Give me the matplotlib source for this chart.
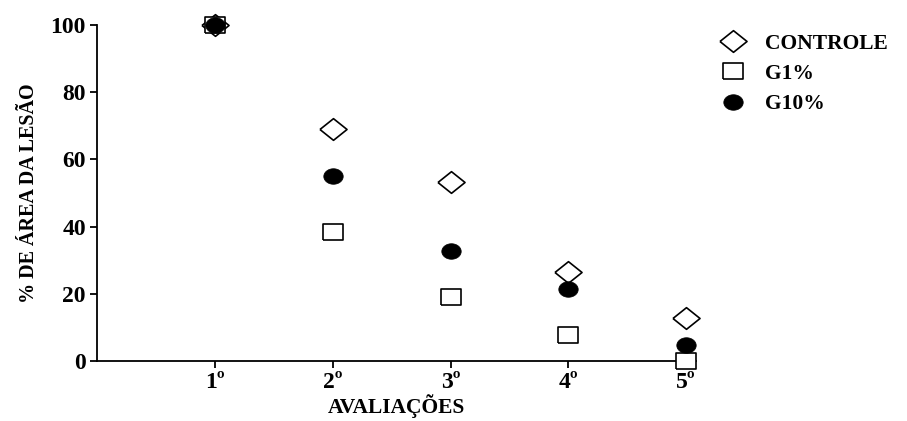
import matplotlib.pyplot as plt
from matplotlib.lines import Line2D
import numpy as np

# data
avaliacoes = [1, 2, 3, 4, 5]
tick_labels = ['1º', '2º', '3º', '4º', '5º']
controle = [100, 69.2, 53.2, 26.5, 12.8]
g1 = [100, 38.4, 19.0, 7.7, 0.0]
g10 = [100, 55.0, 32.7, 21.3, 4.8]

plt.rcParams['font.family'] = ['Liberation Serif', 'DejaVu Serif']
plt.rcParams['font.weight'] = 'bold'

# slightly wide shapes, like the stretched original
diamond = [(-1, 0), (0, 0.8), (1, 0), (0, -0.8), (-1, 0)]
square = [(-1, -0.85), (1, -0.85), (1, 0.85), (-1, 0.85), (-1, -0.85)]
ellipse_pts = [(np.cos(t), 0.8 * np.sin(t)) for t in np.linspace(0, 2 * np.pi, 40)]

fig = plt.figure(figsize=(9.07, 4.21), dpi=100)
ax = fig.add_axes([0.107, 0.1425, 0.66, 0.798])

ax.plot(avaliacoes, controle, linestyle='none', marker=diamond, ms=19.5,
        mfc='white', mec='black', mew=1.2, clip_on=False, zorder=3, label='CONTROLE')
ax.plot(avaliacoes, g1, linestyle='none', marker=square, ms=14,
        mfc='white', mec='black', mew=1.2, clip_on=False, zorder=4, label='G1%')
ax.plot(avaliacoes, g10, linestyle='none', marker=ellipse_pts, ms=14,
        mfc='black', mec='black', mew=0.5, clip_on=False, zorder=5, label='G10%')

ax.set_xlim(0, 5.08)
ax.set_ylim(0, 100)
ax.set_xticks(avaliacoes)
ax.set_xticklabels(tick_labels)
ax.set_yticks([0, 20, 40, 60, 80, 100])

for s in ['top', 'right']:
    ax.spines[s].set_visible(False)
for s in ['left', 'bottom']:
    ax.spines[s].set_linewidth(1.3)
ax.tick_params(direction='out', length=5, width=1.3, labelsize=17, pad=3)

ax.set_xlabel('AVALIAÇÕES', fontsize=15.5, fontweight='bold', labelpad=1)
ax.set_ylabel('% DE ÁREA DA LESÃO', fontsize=14.5, fontweight='bold', labelpad=8)

handles = [
    Line2D([], [], linestyle='none', marker=diamond, ms=19.5, mfc='white', mec='black', mew=1.2),
    Line2D([], [], linestyle='none', marker=square, ms=14, mfc='white', mec='black', mew=1.2),
    Line2D([], [], linestyle='none', marker=ellipse_pts, ms=14, mfc='black', mec='black', mew=0.5),
]
fig.legend(handles, ['CONTROLE', 'G1%', 'G10%'], loc='upper left',
           bbox_to_anchor=(0.794, 0.92), frameon=False, fontsize=15.5,
           handlelength=1.2, handletextpad=0.9, labelspacing=0.47,
           borderaxespad=0, borderpad=0)

fig.savefig('out.png', dpi=100)
